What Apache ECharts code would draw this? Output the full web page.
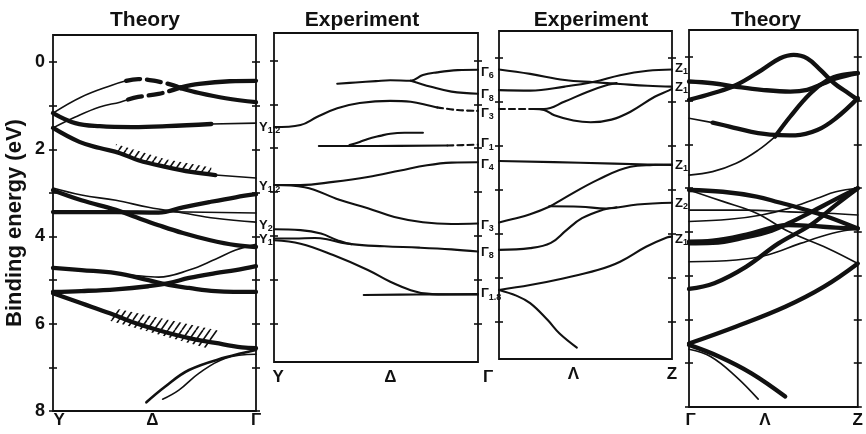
<!DOCTYPE html>
<html><head><meta charset="utf-8">
<script src="https://cdn.jsdelivr.net/npm/echarts@6/dist/echarts.min.js"></script>
<style>html,body{margin:0;padding:0;background:#fff}#c{width:866px;height:434px}</style>
</head><body><div id="c"></div>
<script>
// ---------- DATA (x = position along the k-path, 0..100 ; y = binding energy, eV) ----------
// Panel 1: Theory, Y - Δ - Γ
const t1A_thin  = [[0,1.17],[14,0.8],[29,0.53],[36,0.43]];
const t1A_dash  = [[36,0.43],[42,0.39],[51,0.44],[59,0.53],[63,0.6]];
const t1A_thick = [[63,0.6],[72,0.71],[85,0.83],[100,0.92]];
const t1B_thin  = [[0,1.51],[11,1.26],[23,1.03],[33,0.92],[37,0.86]];
const t1B_dash  = [[37,0.86],[42,0.8],[52,0.73],[57,0.67],[63,0.58]];
const t1B_thick = [[63,0.58],[72,0.5],[87,0.44],[100,0.43]];
const t1C_thick = [[0,1.17],[11,1.4],[23,1.47],[39,1.49],[56,1.47],[78,1.42]];
const t1C_thin  = [[78,1.42],[100,1.4]];
const t1D_thick = [[0,1.51],[13,1.83],[23,1.97],[33,2.09],[42,2.25],[56,2.41],[68,2.52],[80,2.59]];
const t1D_thin  = [[80,2.59],[100,2.66]];
const t1E = [[0,2.94],[14,3.17],[31,3.39],[41,3.56],[52,3.74],[64,3.92],[77,4.08],[90,4.2],[100,4.24]];
const t1F = [[0,2.89],[14,3.05],[31,3.17],[47,3.33],[64,3.46],[80,3.58],[100,3.67]];
const t1G = [[0,3.42],[50,3.43],[100,3.46]];
const t1H = [[0,3.44],[31,3.44],[52,3.45],[64,3.33],[77,3.21],[90,3.1],[100,3.03]];
const t1I = [[0,4.72],[14,4.77],[31,4.84],[47,5.0],[57,5.11],[67,5.18],[80,5.25],[100,5.27]];
const t1J = [[0,4.74],[23,4.8],[42,4.9],[52,4.93],[67,4.77],[80,4.52],[90,4.31],[100,4.18]];
const t1K = [[0,5.27],[14,5.25],[31,5.21],[47,5.14],[57,5.07],[67,4.95],[80,4.84],[90,4.77],[100,4.68]];
const t1L = [[0,5.3],[14,5.53],[28,5.76],[39,5.96],[52,6.15],[67,6.33],[80,6.44],[93,6.54],[100,6.56]];
const t1M1 = [[46,7.8],[55,7.45],[67,7.06],[85,6.77],[100,6.6]];
const t1M2 = [[54,7.73],[62,7.52],[72,7.13],[85,6.79],[100,6.7]];
const t1Hatch1 = [[31,1.88],[55,2.22],[78,2.42],[78,2.57],[55,2.40],[31,2.07]];
const t1Hatch2 = [[31,5.65],[83,6.17],[76,6.56],[28,5.93]];

// Panel 2: Experiment, Y - Δ - Γ
const e2P1a = [[31,0.53],[40,0.5],[50,0.47],[57,0.45],[67,0.46],[73,0.33],[80,0.27],[90,0.22],[100,0.21]];
const e2P1b = [[67,0.46],[77,0.6],[87,0.71],[100,0.76]];
const e2P2_solid = [[0,1.52],[13,1.47],[21,1.29],[31,1.09],[42,0.97],[57,0.92],[67,0.94],[77,1.04],[80,1.07]];
const e2P2_dash  = [[80,1.07],[90,1.13],[100,1.15]];
const e2P3_solid = [[22,1.95],[50,1.95],[85,1.94]];
const e2P3_dash  = [[85,1.94],[100,1.92]];
const e2P4 = [[37,1.93],[42,1.86],[46,1.79],[52,1.72],[57,1.67],[64,1.65],[73,1.65]];
const e2P5 = [[0,2.84],[13,2.84],[29,2.77],[46,2.66],[62,2.51],[75,2.39],[87,2.33],[100,2.32]];
const e2P6 = [[0,2.84],[15,2.89],[32,3.18],[46,3.37],[59,3.57],[73,3.69],[87,3.73],[100,3.72]];
const e2P7 = [[0,3.85],[13,3.87],[23,3.95],[31,4.1],[38,4.19],[54,4.24],[71,4.27],[87,4.31],[100,4.36]];
const e2P8 = [[0,4.06],[10,4.06],[20,4.05],[26,4.08],[33,4.16],[38,4.19]];
const e2P9 = [[0,4.1],[13,4.18],[29,4.44],[46,4.78],[57,5.05],[67,5.24],[75,5.32],[87,5.34],[100,5.34]];
const e2P10 = [[44,5.35],[70,5.34],[100,5.33]];

// Panel 3: Experiment, Γ - Λ - Z
const e3Q1 = [[0,0.26],[18,0.36],[38,0.5],[55,0.55],[70,0.59],[86,0.63],[100,0.65]];
const e3Q2 = [[0,0.73],[18,0.74],[38,0.65],[55,0.54],[70,0.39],[86,0.29],[100,0.26]];
const e3Q3_dash = [[0,1.16],[20,1.16]];
const e3Q3up = [[20,1.16],[26,1.16],[38,0.99],[51,0.77],[63,0.61],[68,0.57]];
const e3Q3dn = [[20,1.16],[26,1.18],[32,1.3],[43,1.42],[53,1.46],[65,1.4],[76,1.22],[90,0.88],[98,0.74],[100,0.7]];
const e3Q4 = [[0,2.34],[47,2.38],[86,2.42],[100,2.43]];
const e3Q5 = [[0,3.74],[8,3.66],[18,3.55],[29,3.38],[37,3.2],[57,2.77],[76,2.47],[89,2.43],[100,2.42]];
const e3Q6 = [[29,3.37],[47,3.38],[62,3.42],[80,3.33],[100,3.29]];
const e3Q7 = [[0,4.36],[18,4.32],[30,4.2],[39,3.91],[48,3.64],[60,3.45],[68,3.39]];
const e3Q8 = [[0,5.27],[18,5.16],[37,5.01],[57,4.82],[70,4.63],[85,4.29],[97,4.08],[100,4.06]];
const e3Q9 = [[0,5.27],[10,5.4],[18,5.57],[28,5.95],[35,6.26],[45,6.58]];

// Panel 4: Theory, Γ - Λ - Z
const t4R1 = [[0,0.98],[14,0.83],[28,0.64],[43,0.3],[54,0.03],[62,-0.05],[70,0.03],[78,0.3],[86,0.6],[93,0.79],[100,0.98]];
const t4R2 = [[0,0.56],[14,0.6],[28,0.68],[43,0.75],[60,0.79],[70,0.75],[80,0.6],[87,0.49],[100,0.37]];
const t4R3_thin = [[0,1.4],[14,1.5]];
const t4R3 = [[14,1.5],[24,1.59],[37,1.71],[51,1.78],[63,1.79],[76,1.67],[87,1.4],[100,0.94]];
const t4R4_thin = [[0,2.7],[14,2.62],[28,2.43],[41,2.13],[51,1.82]];
const t4R4 = [[51,1.82],[60,1.36],[72,0.83],[82,0.53],[91,0.41],[100,0.37]];
const t4S1 = [[0,3.04],[20,3.08],[40,3.19],[53,3.32],[68,3.48],[82,3.65],[100,3.92]];
const t4S2 = [[0,3.5],[34,3.5],[59,3.54],[82,3.57],[100,3.61]];
const t4S3 = [[0,3.76],[24,3.71],[43,3.61],[59,3.46],[76,3.23],[87,3.08],[100,3.0]];
const t4S4a = [[0,4.22],[14,4.2],[34,4.06],[49,3.9],[59,3.84],[72,3.86],[87,3.9],[100,3.92]];
const t4S4b = [[0,4.26],[14,4.25],[34,4.12],[49,3.97],[59,3.8],[72,3.55],[87,3.25],[100,3.0]];
const t4S5 = [[0,4.68],[28,4.64],[47,4.52],[66,4.26],[85,4.03],[100,3.92]];
const t4S6 = [[0,5.3],[15,5.17],[34,4.79],[53,4.26],[72,3.84],[87,3.38],[100,3.0]];
const t4S7 = [[0,3.04],[20,3.3],[40,3.57],[59,3.99],[82,4.37],[100,4.72]];
const t4Big = [[0,6.55],[28,6.16],[57,5.71],[80,5.25],[100,4.72]];
const t4Low1 = [[0,6.58],[18,6.85],[37,7.23],[57,7.76]];
const t4Low2 = [[0,6.68],[13,6.85],[28,7.31],[41,7.82]];

// Tick / label texts
const titles = ['Theory','Experiment','Experiment','Theory'];
const yTickLabels = ['0','2','4','6','8'];
const yTickLabelValues = [0,2,4,6,8];
const p1XNames = ['Y','Δ','Γ'];
const p2XNames = ['Y','Δ','Γ'];
const p3XNames = ['Λ','Z'];
const p4XNames = ['Γ','Λ','Z'];
const p1SideSub = ['1,2','1,2','2','1'];
const p1SideE   = [1.5, 2.84, 3.74, 4.06];
const p2SideSub = ['6','8','3','1','4','3','8','1.8'];
const p2SideE   = [0.27, 0.78, 1.2, 1.9, 2.36, 3.76, 4.37, 5.32];
const p3SideSub = ['1','1','1','2','1'];
const p3SideE   = [0.23, 0.67, 2.43, 3.3, 4.12];

// ---------- CHART ----------
const chart = echarts.init(document.getElementById('c'));
const BLACK = '#111';
const FONT = 'Liberation Sans';

const panels = [
  {left:53, top:35, width:203, height:376, min:-0.62, max:8, ticks:[0,1,2,3,4,5,6,7,8],
   xVals:[3,49,100], xNames:p1XNames, xMargin:1},
  {left:274, top:33, width:204, height:329, min:-0.628, max:6.88, ticks:[0,1,2,3,4,5,6],
   xVals:[2,57,100], xNames:p2XNames, xMargin:7},
  {left:499, top:31, width:173, height:328, min:-0.614, max:6.84, ticks:[0,1,2,3,4,5,6],
   xVals:[43,100], xNames:p3XNames, xMargin:7},
  {left:689, top:30, width:173, height:377, min:-0.617, max:8, ticks:[0,1,2,3,4,5,6,7,8],
   xVals:[1,45,100], xNames:p4XNames, xMargin:5}
];
const sides = [
  {base:'Y', subs:p1SideSub, vals:p1SideE},
  {base:'Γ', subs:p2SideSub, vals:p2SideE},
  {base:'Z', subs:p3SideSub, vals:p3SideE},
  null
];

function sideLabel(s, parity){
  const vals = s.vals.filter((v,k)=>k%2===parity);
  return {show:true, inside:false, customValues:vals, margin:3, hideOverlap:false,
    formatter:(v)=>'{m|'+s.base+'}{s|'+s.subs[s.vals.indexOf(v)]+'}',
    rich:{
      m:{color:BLACK, fontFamily:FONT, fontSize:13, fontWeight:'bold', lineHeight:14},
      s:{color:BLACK, fontFamily:FONT, fontSize:9, fontWeight:'bold', padding:[7,0,0,0], lineHeight:14}
    }};
}

const grids=[], xAxes=[], yAxes=[];
panels.forEach((p,i)=>{
  grids.push({left:p.left, top:p.top, width:p.width, height:p.height, show:true,
    borderColor:BLACK, borderWidth:1.8, backgroundColor:'transparent'});
  xAxes.push({gridIndex:i, type:'value', min:0, max:100,
    axisLine:{show:false}, axisTick:{show:false}, splitLine:{show:false},
    axisLabel:{show:true, customValues:p.xVals, margin:p.xMargin, hideOverlap:false,
      formatter:(v)=>{const k=p.xVals.indexOf(v); const t=p.xNames[k];
        return (i===1 && k===2) ? '{g|'+t+'}' : t;},
      color:BLACK, fontFamily:FONT, fontSize:17, fontWeight:'bold',
      rich:{g:{color:BLACK, fontFamily:FONT, fontSize:17, fontWeight:'bold', padding:[0,0,0,20]}}}});
  const tickStyle = {lineStyle:{color:BLACK, width:1.6}};
  const mk = (pos, inside, extra) => Object.assign({
    gridIndex:i, type:'value', position:pos, inverse:true, min:p.min, max:p.max,
    axisLine:{show:false}, splitLine:{show:false},
    axisTick:Object.assign({show:true, inside:inside, length:4, customValues:p.ticks}, tickStyle),
    axisLabel:{show:false}
  }, extra||{});
  let leftOut = {};
  if(i===0){
    leftOut = {
      axisLabel:{show:true, customValues:yTickLabelValues, margin:8, hideOverlap:false,
        formatter:(v)=>yTickLabels[yTickLabelValues.indexOf(v)],
        color:BLACK, fontFamily:FONT, fontSize:18, fontWeight:'bold'},
      name:'Binding energy (eV)', nameLocation:'middle', nameGap:27, nameRotate:90,
      nameTextStyle:{color:BLACK, fontFamily:FONT, fontSize:22, fontWeight:'bold'}
    };
  }
  yAxes.push(mk('left', false, leftOut));
  yAxes.push(mk('left', true));
  const s = sides[i];
  yAxes.push(mk('right', false, s ? {axisLabel:sideLabel(s,0)} : {}));
  yAxes.push(mk('right', true, s ? {axisLabel:sideLabel(s,1)} : {}));
});

const ST = {
  thin:{width:1.6}, med:{width:2.6}, thick:{width:4.3},
  dashThick:{width:4.3, type:[14,7]}, exp:{width:2.1}, dashExp:{width:2.1, type:[6,4]}
};
const lines = [
  [0,t1A_thin,'thin'],[0,t1A_dash,'dashThick'],[0,t1A_thick,'thick'],
  [0,t1B_thin,'thin'],[0,t1B_dash,'dashThick'],[0,t1B_thick,'thick'],
  [0,t1C_thick,'thick'],[0,t1C_thin,'thin'],[0,t1D_thick,'thick'],[0,t1D_thin,'thin'],
  [0,t1E,'thick'],[0,t1F,'thin'],[0,t1G,'thin'],[0,t1H,'thick'],
  [0,t1I,'thick'],[0,t1J,'thin'],[0,t1K,'thick'],[0,t1L,'thick'],
  [0,t1M1,'med'],[0,t1M2,'thin'],
  [1,e2P1a,'exp'],[1,e2P1b,'exp'],[1,e2P2_solid,'exp'],[1,e2P2_dash,'dashExp'],
  [1,e2P3_solid,'exp'],[1,e2P3_dash,'dashExp'],[1,e2P4,'exp'],[1,e2P5,'exp'],[1,e2P6,'exp'],
  [1,e2P7,'exp'],[1,e2P8,'exp'],[1,e2P9,'exp'],[1,e2P10,'exp'],
  [2,e3Q1,'exp'],[2,e3Q2,'exp'],[2,e3Q3_dash,'dashExp'],[2,e3Q3up,'exp'],[2,e3Q3dn,'exp'],
  [2,e3Q4,'exp'],[2,e3Q5,'exp'],[2,e3Q6,'exp'],[2,e3Q7,'exp'],[2,e3Q8,'exp'],[2,e3Q9,'exp'],
  [3,t4R1,'thick'],[3,t4R2,'thick'],[3,t4R3_thin,'thin'],[3,t4R3,'thick'],
  [3,t4R4_thin,'thin'],[3,t4R4,'thick'],
  [3,t4S1,'thick'],[3,t4S2,'thin'],[3,t4S3,'thin'],[3,t4S4a,'thick'],[3,t4S4b,'thick'],
  [3,t4S5,'thin'],[3,t4S6,'thick'],[3,t4S7,'thin'],[3,t4Big,'thick'],
  [3,t4Low1,'thick'],[3,t4Low2,'thin']
];
const series = lines.map(([p,d,st])=>({
  type:'line', xAxisIndex:p, yAxisIndex:p*4, data:d, smooth:0.4, showSymbol:false, symbol:'none',
  silent:true, animation:false, z:3,
  lineStyle:Object.assign({color:BLACK, cap:'round', join:'round'}, ST[st])
}));

// hatch pattern (steep "/" strokes)
function makeHatch(){
  const w=7, h=10, c=document.createElement('canvas'); c.width=w; c.height=h;
  const g=c.getContext('2d'); g.strokeStyle=BLACK; g.lineWidth=1.6;
  g.beginPath();
  g.moveTo(0,h); g.lineTo(w,0);
  g.moveTo(-w,h); g.lineTo(0,0);
  g.moveTo(w,h); g.lineTo(2*w,0);
  g.stroke(); return c;
}
const hatchImg = makeHatch();
const hatches = [t1Hatch1, t1Hatch2];
series.push({
  type:'custom', xAxisIndex:0, yAxisIndex:0, silent:true, animation:false, z:2,
  data:hatches.map(h=>h[0]),
  renderItem:(params, api)=>{
    const poly = hatches[params.dataIndex];
    return {type:'polygon', shape:{points:poly.map(pt=>api.coord(pt))},
      style:{fill:{image:hatchImg, repeat:'repeat'}, stroke:null}};
  }
});

const titleX = [145, 362, 591, 766];
const graphic = titles.map((t,i)=>({type:'text', x:titleX[i], y:20,
  style:{text:t, fill:BLACK, font:'bold 21px "'+FONT+'"', align:'center', verticalAlign:'middle'}}));

chart.setOption({animation:false, backgroundColor:'#fff', grid:grids, xAxis:xAxes, yAxis:yAxes,
  series:series, graphic:graphic});
</script></body></html>
